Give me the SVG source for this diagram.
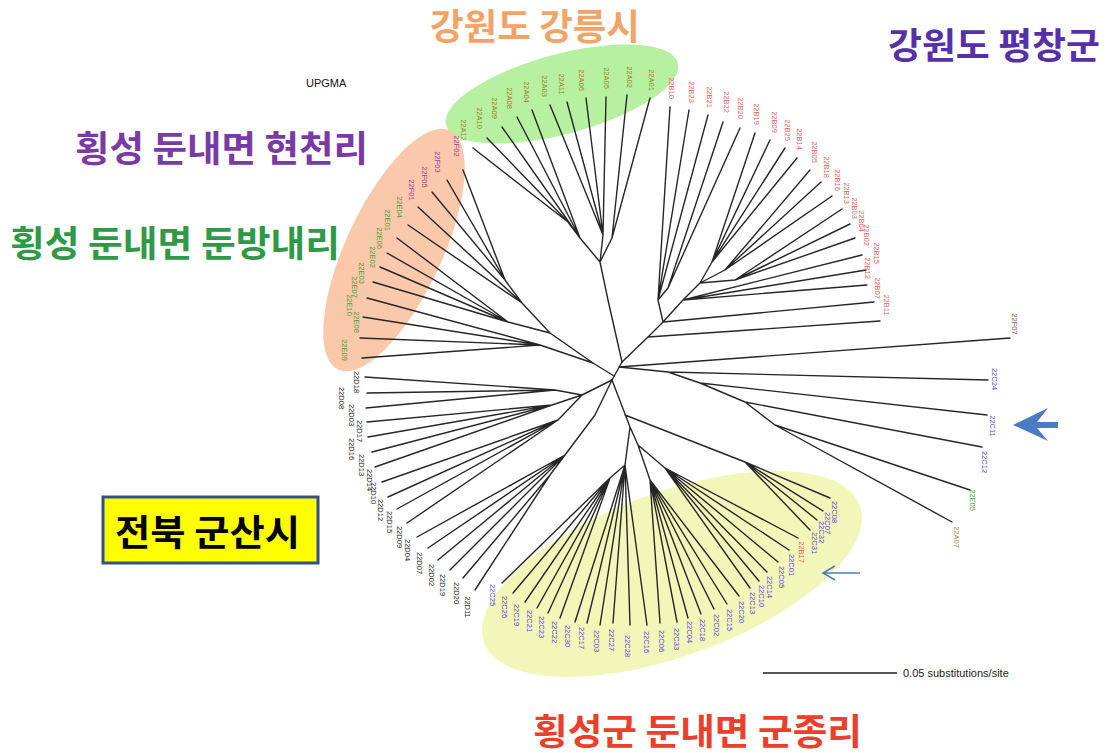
<svg xmlns="http://www.w3.org/2000/svg" width="1107" height="753" viewBox="0 0 1107 753">
<style>
.lb{font-family:"Liberation Sans",Arial,sans-serif;font-size:7.5px;text-anchor:middle}
.ta{fill:#9c8230}.tb{fill:#e8605c}.tc{fill:#5a3fd8}.td{fill:#222}.te{fill:#4a9e3a}.tf{fill:#9a3c9c}
.big{font-family:"Noto Sans CJK KR",sans-serif;font-size:36px;font-weight:bold}
.br{fill:none;stroke:#262626;stroke-width:1.4;stroke-linecap:round}
</style>
<rect width="1107" height="753" fill="#fff"/>
<g id="groups">
<ellipse cx="562" cy="94" rx="120" ry="40" transform="rotate(-15 562 94)" fill="#b7f0a0"/>
<ellipse cx="394" cy="250" rx="132" ry="48" transform="rotate(-65 394 250)" fill="#fac8aa"/>
<ellipse cx="672" cy="574" rx="200" ry="82" transform="rotate(-20 672 574)" fill="#f1f7b9"/>
</g>
<g id="connectors" class="br">
<path d="M622 362L612 380"/>
<path d="M622 362L608 300L600 262M600 262L580 238L568 222M568 222L473 148M568 222L487 138M580 238L502 127M580 238L517 117M580 238L532 110M600 262L603 235M603 235L550 105M603 235L567 102M603 235L586 98M603 235L606 97M600 262L612 238M612 238L627 95M612 238L650 98"/>
<path d="M622 362L648 337L663 322L683 300L700 283M648 337L880 321M663 322L874 302M663 322L658 300M658 300L670 107M658 300L689 110M658 300L708 115M658 300L668 288M668 288L723 122M668 288L740 128M683 300L862 255M683 300L866 270M683 300L867 285M700 283L712 262M712 262L755 133M712 262L770 140M712 262L785 148M712 262L797 158M700 283L725 270M725 270L810 170M725 270L821 182M725 270L832 196M700 283L735 280M735 280L842 209M735 280L850 224M735 280L855 238"/>
<path d="M619 367L1010 338M619 367L668 372M668 372L988 380M668 372L700 383M700 383L987 415M700 383L745 402M745 402L982 447M745 402L775 425M775 425L970 490M775 425L952 522"/>
<path d="M614 376L593 363M593 363L550 333L522 303M522 303L505 280M505 280L463 170M505 280L447 180M505 280L432 192M522 303L418 207M522 303L408 225M550 333L508 322M508 322L397 238M508 322L387 253M508 322L380 267M508 322L373 282M593 363L540 345M540 345L367 298M540 345L363 317M540 345L360 338M540 345L362 358"/>
<path d="M612 380L582 395M582 395L555 390M555 390L365 377M555 390L367 393M555 390L366 408M582 395L552 405M552 405L367 422M552 405L368 437M552 405L372 452M552 405L375 467M582 395L558 420M558 420L382 482M558 420L388 497M558 420L397 509M558 420L407 523M612 380L595 415M595 415L565 455M565 455L417 537M565 455L428 548M565 455L438 560M565 455L450 570M565 455L550 475M550 475L463 578M550 475L475 590"/>
<path d="M612 380L630 427M625 415L745 462M745 462L830 498M745 462L823 511M745 462L817 520M745 462L810 530M630 427L638 445M638 445L665 468M665 468L798 538M665 468L789 550M665 468L778 562M665 468L767 572M665 468L759 581M665 468L750 588M638 445L650 480M650 480L739 596M650 480L727 604M650 480L714 609M650 480L701 614M650 480L688 618M650 480L677 622M650 480L660 623M630 427L625 465M625 465L647 625M625 465L630 625M625 465L613 623M625 465L600 625M625 465L587 623M625 465L575 622M625 465L610 478M610 478L560 618M610 478L548 613M610 478L537 608M610 478L525 602M610 478L513 593M610 478L502 583"/>
</g>
<g id="tips" class="lb">
<g id="n22A12"><text class="ta" y="2.7" transform="translate(464 130) rotate(90)">22A12</text></g>
<g id="n22A10"><text class="ta" y="2.7" transform="translate(480 118) rotate(90)">22A10</text></g>
<g id="n22A09"><text class="ta" y="2.7" transform="translate(495 108) rotate(90)">22A09</text></g>
<g id="n22A08"><text class="ta" y="2.7" transform="translate(510 98) rotate(90)">22A08</text></g>
<g id="n22A04"><text class="ta" y="2.7" transform="translate(527 92) rotate(90)">22A04</text></g>
<g id="n22A03"><text class="ta" y="2.7" transform="translate(545 86) rotate(90)">22A03</text></g>
<g id="n22A11"><text class="ta" y="2.7" transform="translate(562 84) rotate(90)">22A11</text></g>
<g id="n22A06"><text class="ta" y="2.7" transform="translate(582 80) rotate(90)">22A06</text></g>
<g id="n22A05"><text class="ta" y="2.7" transform="translate(607 78) rotate(90)">22A05</text></g>
<g id="n22A02"><text class="ta" y="2.7" transform="translate(630 77) rotate(90)">22A02</text></g>
<g id="n22A01"><text class="ta" y="2.7" transform="translate(652 80) rotate(90)">22A01</text></g>
<g id="n22B10"><text class="tb" y="2.7" transform="translate(672 88) rotate(90)">22B10</text></g>
<g id="n22B23"><text class="tb" y="2.7" transform="translate(692 92) rotate(90)">22B23</text></g>
<g id="n22B21"><text class="tb" y="2.7" transform="translate(710 97) rotate(90)">22B21</text></g>
<g id="n22B22"><text class="tb" y="2.7" transform="translate(727 102) rotate(90)">22B22</text></g>
<g id="n22B20"><text class="tb" y="2.7" transform="translate(741 108) rotate(90)">22B20</text></g>
<g id="n22B19"><text class="tb" y="2.7" transform="translate(757 114) rotate(90)">22B19</text></g>
<g id="n22B09"><text class="tb" y="2.7" transform="translate(775 122) rotate(90)">22B09</text></g>
<g id="n22B25"><text class="tb" y="2.7" transform="translate(788 130) rotate(90)">22B25</text></g>
<g id="n22B14"><text class="tb" y="2.7" transform="translate(800 139) rotate(90)">22B14</text></g>
<g id="n22B05"><text class="tb" y="2.7" transform="translate(815 152) rotate(90)">22B05</text></g>
<g id="n22B18"><text class="tb" y="2.7" transform="translate(827 167) rotate(90)">22B18</text></g>
<g id="n22B16"><text class="tb" y="2.7" transform="translate(838 180) rotate(90)">22B16</text></g>
<g id="n22B13"><text class="tb" y="2.7" transform="translate(847 193) rotate(90)">22B13</text></g>
<g id="n22B03"><text class="tb" y="2.7" transform="translate(855 208) rotate(90)">22B03</text></g>
<g id="n22B04"><text class="tb" y="2.7" transform="translate(862 221) rotate(90)">22B04</text></g>
<g id="n22B02"><text class="tb" y="2.7" transform="translate(867 235) rotate(90)">22B02</text></g>
<g id="n22B15"><text class="tb" y="2.7" transform="translate(877 253) rotate(90)">22B15</text></g>
<g id="n22B12"><text class="tb" y="2.7" transform="translate(868 268) rotate(90)">22B12</text></g>
<g id="n22B07"><text class="tb" y="2.7" transform="translate(878 288) rotate(90)">22B07</text></g>
<g id="n22B11"><text class="tb" y="2.7" transform="translate(887 305) rotate(90)">22B11</text></g>
<g id="n22F02"><text class="tf" y="2.7" transform="translate(457 146) rotate(90)">22F02</text></g>
<g id="n22F03"><text class="tf" y="2.7" transform="translate(438 162) rotate(90)">22F03</text></g>
<g id="n22F05"><text class="tf" y="2.7" transform="translate(425 177) rotate(90)">22F05</text></g>
<g id="n22F01"><text class="tf" y="2.7" transform="translate(412 190) rotate(90)">22F01</text></g>
<g id="n22E04"><text class="te" y="2.7" transform="translate(400 207) rotate(90)">22E04</text></g>
<g id="n22E01"><text class="te" y="2.7" transform="translate(388 220) rotate(90)">22E01</text></g>
<g id="n22E06"><text class="te" y="2.7" transform="translate(380 238) rotate(90)">22E06</text></g>
<g id="n22E02"><text class="te" y="2.7" transform="translate(373 257) rotate(90)">22E02</text></g>
<g id="n22E03"><text class="te" y="2.7" transform="translate(362 273) rotate(90)">22E03</text></g>
<g id="n22E07"><text class="te" y="2.7" transform="translate(355 287) rotate(90)">22E07</text></g>
<g id="n22E10"><text class="te" y="2.7" transform="translate(350 305) rotate(90)">22E10</text></g>
<g id="n22E08"><text class="te" y="2.7" transform="translate(357 322) rotate(90)">22E08</text></g>
<g id="n22E09"><text class="te" y="2.7" transform="translate(345 350) rotate(90)">22E09</text></g>
<g id="n22D18"><text class="td" y="2.7" transform="translate(357 382) rotate(90)">22D18</text></g>
<g id="n22D08"><text class="td" y="2.7" transform="translate(342 398) rotate(90)">22D08</text></g>
<g id="n22D03"><text class="td" y="2.7" transform="translate(352 415) rotate(90)">22D03</text></g>
<g id="n22D17"><text class="td" y="2.7" transform="translate(360 431) rotate(90)">22D17</text></g>
<g id="n22D16"><text class="td" y="2.7" transform="translate(352 449) rotate(90)">22D16</text></g>
<g id="n22D13"><text class="td" y="2.7" transform="translate(362 465) rotate(90)">22D13</text></g>
<g id="n22D14"><text class="td" y="2.7" transform="translate(370 480) rotate(90)">22D14</text></g>
<g id="n22D10"><text class="td" y="2.7" transform="translate(374 493) rotate(90)">22D10</text></g>
<g id="n22D12"><text class="td" y="2.7" transform="translate(381 510) rotate(90)">22D12</text></g>
<g id="n22D15"><text class="td" y="2.7" transform="translate(390 522) rotate(90)">22D15</text></g>
<g id="n22D09"><text class="td" y="2.7" transform="translate(400 537) rotate(90)">22D09</text></g>
<g id="n22D04"><text class="td" y="2.7" transform="translate(408 550) rotate(90)">22D04</text></g>
<g id="n22D07"><text class="td" y="2.7" transform="translate(420 563) rotate(90)">22D07</text></g>
<g id="n22D02"><text class="td" y="2.7" transform="translate(432 575) rotate(90)">22D02</text></g>
<g id="n22D19"><text class="td" y="2.7" transform="translate(443 585) rotate(90)">22D19</text></g>
<g id="n22D20"><text class="td" y="2.7" transform="translate(457 593) rotate(90)">22D20</text></g>
<g id="n22D11"><text class="td" y="2.7" transform="translate(468 607) rotate(90)">22D11</text></g>
<g id="n22C25"><text class="tc" y="2.7" transform="translate(493 595) rotate(90)">22C25</text></g>
<g id="n22C26"><text class="tc" y="2.7" transform="translate(505 607) rotate(90)">22C26</text></g>
<g id="n22C19"><text class="tc" y="2.7" transform="translate(517 615) rotate(90)">22C19</text></g>
<g id="n22C21"><text class="tc" y="2.7" transform="translate(530 621) rotate(90)">22C21</text></g>
<g id="n22C23"><text class="tc" y="2.7" transform="translate(542 627) rotate(90)">22C23</text></g>
<g id="n22C22"><text class="tc" y="2.7" transform="translate(555 632) rotate(90)">22C22</text></g>
<g id="n22C30"><text class="tc" y="2.7" transform="translate(568 636) rotate(90)">22C30</text></g>
<g id="n22C17"><text class="tc" y="2.7" transform="translate(582 638) rotate(90)">22C17</text></g>
<g id="n22C03"><text class="tc" y="2.7" transform="translate(597 641) rotate(90)">22C03</text></g>
<g id="n22C27"><text class="tc" y="2.7" transform="translate(612 640) rotate(90)">22C27</text></g>
<g id="n22C28"><text class="tc" y="2.7" transform="translate(628 646) rotate(90)">22C28</text></g>
<g id="n22C16"><text class="tc" y="2.7" transform="translate(647 642) rotate(90)">22C16</text></g>
<g id="n22C06"><text class="tc" y="2.7" transform="translate(662 641) rotate(90)">22C06</text></g>
<g id="n22C33"><text class="tc" y="2.7" transform="translate(677 639) rotate(90)">22C33</text></g>
<g id="n22C04"><text class="tc" y="2.7" transform="translate(690 632) rotate(90)">22C04</text></g>
<g id="n22C18"><text class="tc" y="2.7" transform="translate(703 630) rotate(90)">22C18</text></g>
<g id="n22C02"><text class="tc" y="2.7" transform="translate(717 625) rotate(90)">22C02</text></g>
<g id="n22C15"><text class="tc" y="2.7" transform="translate(730 620) rotate(90)">22C15</text></g>
<g id="n22C20"><text class="tc" y="2.7" transform="translate(742 612) rotate(90)">22C20</text></g>
<g id="n22C13"><text class="tc" y="2.7" transform="translate(753 603) rotate(90)">22C13</text></g>
<g id="n22C10"><text class="tc" y="2.7" transform="translate(762 596) rotate(90)">22C10</text></g>
<g id="n22C14"><text class="tc" y="2.7" transform="translate(770 587) rotate(90)">22C14</text></g>
<g id="n22C05"><text class="tc" y="2.7" transform="translate(782 577) rotate(90)">22C05</text></g>
<g id="n22C01"><text class="tc" y="2.7" transform="translate(792 565) rotate(90)">22C01</text></g>
<g id="n22B17"><text class="tb" y="2.7" transform="translate(802 552) rotate(90)">22B17</text></g>
<g id="n22C31"><text class="tc" y="2.7" transform="translate(815 543) rotate(90)">22C31</text></g>
<g id="n22C32"><text class="tc" y="2.7" transform="translate(822 532) rotate(90)">22C32</text></g>
<g id="n22C07"><text class="tc" y="2.7" transform="translate(828 523) rotate(90)">22C07</text></g>
<g id="n22C08"><text class="tc" y="2.7" transform="translate(835 512) rotate(90)">22C08</text></g>
<g id="n22F07"><text fill="#a04a4a" y="2.7" transform="translate(1015 324) rotate(90)">22F07</text></g>
<g id="n22C24"><text class="tc" y="2.7" transform="translate(995 379) rotate(90)">22C24</text></g>
<g id="n22C11"><text class="tc" y="2.7" transform="translate(993 426) rotate(90)">22C11</text></g>
<g id="n22C12"><text class="tc" y="2.7" transform="translate(985 462) rotate(90)">22C12</text></g>
<g id="n22E05"><text class="te" y="2.7" transform="translate(973 500) rotate(90)">22E05</text></g>
<g id="n22A07"><text fill="#c08050" y="2.7" transform="translate(957 537) rotate(90)">22A07</text></g>
</g>
<g id="titles">
<text class="big" x="430" y="40" fill="#f2a468" font-size="34" textLength="210" lengthAdjust="spacingAndGlyphs">강원도 강릉시</text>
<text class="big" x="888" y="59" fill="#5530a8" textLength="212" lengthAdjust="spacingAndGlyphs">강원도 평창군</text>
<text class="big" x="75" y="162" fill="#7a3aa6" textLength="293" lengthAdjust="spacingAndGlyphs">횡성 둔내면 현천리</text>
<text class="big" x="10" y="257" fill="#2e9a48" textLength="330" lengthAdjust="spacingAndGlyphs">횡성 둔내면 둔방내리</text>
<text class="big" x="533" y="745" fill="#e8402a" textLength="329" lengthAdjust="spacingAndGlyphs">횡성군 둔내면 군종리</text>
<text x="306" y="87" font-family="Liberation Sans,Arial,sans-serif" font-size="11" fill="#111">UPGMA</text>
</g>
<g id="gunsan">
<rect x="103" y="497" width="215" height="66" fill="#ffff00" stroke="#34508c" stroke-width="3"/>
<text class="big" x="115" y="546" fill="#000" textLength="185" lengthAdjust="spacingAndGlyphs">전북 군산시</text>
</g>
<g id="markers">
<polygon points="1013,425 1048,408 1037,422 1058,422 1058,428 1037,428 1048,441" fill="#4a7cc4"/>
<path d="M860 573H823M835 566L823 573L835 580" fill="none" stroke="#4a7cc4" stroke-width="1.5"/>
</g>
<g id="scale">
<line x1="763" y1="673" x2="897" y2="673" stroke="#555" stroke-width="2"/>
<text x="903" y="677" font-family="Liberation Sans,Arial,sans-serif" font-size="11" fill="#222">0.05 substitutions/site</text>
</g>
</svg>
